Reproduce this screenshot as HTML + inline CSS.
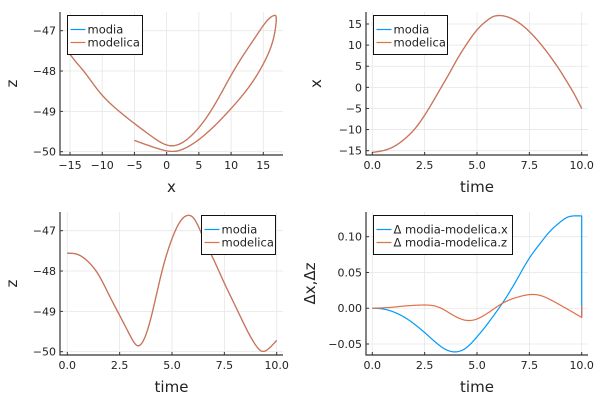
<!DOCTYPE html>
<html><head><meta charset="utf-8"><style>
body{margin:0;background:#fff;}
svg{display:block;font-family:"DejaVu Sans","Liberation Sans",sans-serif;}
.tick{font-size:11px;fill:#222;}
.lab{font-size:15px;fill:#222;}
.leg{font-size:11.5px;fill:#222;}
</style></head><body>
<svg id="fig" width="600" height="400" viewBox="0 0 600 400"></svg>
<script>
const times=[0,0.5,1,1.5,2,2.5,3,3.35,3.7,4,4.5,5,5.5,5.8,6,6.5,7,7.5,8,8.5,9,9.3,9.6,10];
const xVals=[-15.4,-15.0,-14.1,-12.4,-10.0,-6.6,-2.5,0.5,3.5,6.2,10.2,13.6,15.9,16.8,17.0,16.6,15.3,13.2,10.5,7.3,3.7,1.3,-1.2,-5.0];
const zVals=[-47.56,-47.59,-47.77,-48.1,-48.6,-49.1,-49.6,-49.85,-49.65,-49.15,-48.05,-47.2,-46.7,-46.62,-46.67,-47.18,-47.73,-48.3,-48.84,-49.38,-49.84,-49.99,-49.93,-49.72];
const dTimes=[0,0.5,1,1.5,2,2.5,3,3.35,3.7,4,4.5,5,5.5,5.8,6,6.5,7,7.5,8,8.5,9,9.3,9.6,10,10];
const dxVals=[0,-0.001,-0.005,-0.012,-0.022,-0.034,-0.047,-0.055,-0.06,-0.061,-0.055,-0.04,-0.022,-0.01,-0.002,0.02,0.045,0.07,0.09,0.108,0.121,0.127,0.129,0.129,-0.012];
const dzVals=[0,0.0005,0.0015,0.003,0.004,0.0045,0.003,-0.001,-0.007,-0.012,-0.017,-0.015,-0.007,-0.001,0.003,0.011,0.016,0.019,0.018,0.012,0.004,-0.001,-0.006,-0.013,0.003];
const xTicks1=[-15,-10,-5,0,5,10,15];
const zTicks=[-47,-48,-49,-50];
const tTicks=[0,2.5,5,7.5,10];
const xTicks2=[15,10,5,0,-5,-10,-15];
const dTicks=[0.1,0.05,0,-0.05];
const BLUE="#009AFA",ORANGE="#E26F46";
const NS="http://www.w3.org/2000/svg";
const svg=document.getElementById('fig');
function el(tag,attrs,parent){const e=document.createElementNS(NS,tag);for(const k in attrs)e.setAttribute(k,attrs[k]);(parent||svg).appendChild(e);return e;}
function lin(d0,d1,p0,p1){return v=>p0+(v-d0)*(p1-p0)/(d1-d0);}
function fmtT(v){return v.toFixed(1);}
function fmtI(v){return v<0?'\u2212'+Math.abs(v):''+v;}
function fmtD(v){const s=Math.abs(v).toFixed(2);return v<0?'\u2212'+s:s;}
function spline(xs,ys){
  const n=xs.length,h=[],a=[],l=[1],mu=[0],z=[0],c=new Array(n).fill(0),b=[],d=[];
  for(let i=0;i<n-1;i++)h.push(xs[i+1]-xs[i]);
  for(let i=1;i<n-1;i++)a[i]=3/h[i]*(ys[i+1]-ys[i])-3/h[i-1]*(ys[i]-ys[i-1]);
  for(let i=1;i<n-1;i++){l[i]=2*(xs[i+1]-xs[i-1])-h[i-1]*mu[i-1];mu[i]=h[i]/l[i];z[i]=(a[i]-h[i-1]*z[i-1])/l[i];}
  for(let j=n-2;j>=0;j--){c[j]=(j>0?z[j]:0)-mu[j]*c[j+1];b[j]=(ys[j+1]-ys[j])/h[j]-h[j]*(c[j+1]+2*c[j])/3;d[j]=(c[j+1]-c[j])/(3*h[j]);}
  return t=>{let i=0;while(i<n-2&&t>xs[i+1])i++;const dt=t-xs[i];return ys[i]+b[i]*dt+c[i]*dt*dt+d[i]*dt*dt*dt;};
}
function sampleT(ts,vs){
  let n=ts.length;const extra=[];
  while(n>1&&ts[n-1]===ts[n-2]){extra.unshift([ts[n-1],vs[n-1]]);n--;}
  const f=spline(ts.slice(0,n),vs.slice(0,n));
  const out=[];const t0=ts[0],t1=ts[n-1];
  for(let k=0;k<=400;k++){const t=t0+(t1-t0)*k/400;out.push([t,f(t)]);}
  return out.concat(extra);
}
function sampleParam(ts,xs,ys){
  const fx=spline(ts,xs),fy=spline(ts,ys);const out=[];
  for(let k=0;k<=400;k++){const t=ts[0]+(ts[ts.length-1]-ts[0])*k/400;out.push([fx(t),fy(t)]);}
  return out;
}
function panel(o){
  const g=el('g',{});
  
  
  o.xt.forEach(v=>{const l=el('line',{x1:o.sx(v),x2:o.sx(v),y1:o.top,y2:o.bottom,stroke:'#e6e6e6','stroke-width':0.8},g);
    });
  o.yt.forEach(v=>{const l=el('line',{x1:o.left,x2:o.right,y1:o.sy(v),y2:o.sy(v),stroke:'#e6e6e6','stroke-width':0.8},g);
    });
  o.series.forEach(s=>{
    const d='M'+s.pts.map(p=>o.sx(p[0]).toFixed(2)+','+o.sy(p[1]).toFixed(2)).join('L');
    const p=el('path',{d:d,fill:'none',stroke:s.color,'stroke-width':1.2,'stroke-linejoin':'round'},g);
    
  });
  const ax=el('path',{d:`M${o.left},${o.top}V${o.bottom}H${o.right}`,fill:'none',stroke:'#333','stroke-width':1.2},g);
  
  o.xt.forEach(v=>{
    el('line',{x1:o.sx(v),x2:o.sx(v),y1:o.bottom,y2:o.bottom-3,stroke:'#333','stroke-width':1},g);
    const t=el('text',{x:o.sx(v),y:o.bottom+14,'text-anchor':'middle',class:'tick'},g);t.textContent=o.fx(v);
    
  });
  o.yt.forEach(v=>{
    el('line',{x1:o.left,x2:o.left+3,y1:o.sy(v),y2:o.sy(v),stroke:'#333','stroke-width':1},g);
    const t=el('text',{x:o.left-4,y:o.sy(v)+4,'text-anchor':'end',class:'tick'},g);t.textContent=o.fy(v);
    
  });
  const xl=el('text',{x:(o.left+o.right)/2,y:o.bottom+37,'text-anchor':'middle',class:'lab'},g);xl.textContent=o.xlab;
  
  const yx=o.ylx,yy=(o.top+o.bottom)/2;
  const yl=el('text',{x:yx,y:yy,'text-anchor':'middle',class:'lab',transform:`rotate(-90 ${yx} ${yy})`},g);yl.textContent=o.ylab;
  
  const L=o.leg;
  const lg=el('g',{},g);
  
  el('rect',{x:L.x,y:L.y,width:L.w,height:39,fill:'#fff',stroke:'#111','stroke-width':1},lg);
  o.series.forEach((s,i)=>{
    const y=L.y+14+i*13;
    el('line',{x1:L.x+3,x2:L.x+18,y1:y,y2:y,stroke:s.color,'stroke-width':1.2},lg);
    const t=el('text',{x:L.x+20,y:y+4,class:'leg'},lg);t.textContent=s.label;
    
  });
}
const sy1=lin(-47,-50,30.7,151.7), sy3=lin(-47,-50,230.7,351.7);
const pXZ=sampleParam(times,xVals,zVals), pX=sampleT(times,xVals), pZ=sampleT(times,zVals);
const pDX=sampleT(dTimes,dxVals), pDZ=sampleT(dTimes,dzVals);
panel({name:'panel-z-vs-x',left:60,right:283,top:12,bottom:155,sx:lin(-15,15,70,263.3),sy:sy1,xt:xTicks1,yt:zTicks,fx:fmtI,fy:fmtI,xlab:'x',ylab:'z',ylx:17,
  leg:{x:67.5,y:15.5,w:75},
  series:[{name:'modia-z-vs-x-line',label:'modia',color:BLUE,pts:pXZ},{name:'modelica-z-vs-x-line',label:'modelica',color:ORANGE,pts:pXZ}]});
panel({name:'panel-x-vs-time',left:366,right:588,top:12,bottom:155,sx:lin(0,10,372.3,581.7),sy:lin(15,-15,24,150.7),xt:tTicks,yt:xTicks2,fx:fmtT,fy:fmtI,xlab:'time',ylab:'x',ylx:321,
  leg:{x:373.5,y:15.5,w:74},
  series:[{name:'modia-x-line',label:'modia',color:BLUE,pts:pX},{name:'modelica-x-line',label:'modelica',color:ORANGE,pts:pX}]});
panel({name:'panel-z-vs-time',left:60,right:283,top:212,bottom:355,sx:lin(0,10,67.3,276.7),sy:sy3,xt:tTicks,yt:zTicks,fx:fmtT,fy:fmtI,xlab:'time',ylab:'z',ylx:17,
  leg:{x:201.5,y:215.5,w:74},
  series:[{name:'modia-z-line',label:'modia',color:BLUE,pts:pZ},{name:'modelica-z-line',label:'modelica',color:ORANGE,pts:pZ}]});
panel({name:'panel-delta',left:366,right:588,top:212,bottom:355,sx:lin(0,10,372.3,581.7),sy:lin(0.1,-0.05,236.7,344),xt:tTicks,yt:dTicks,fx:fmtT,fy:fmtD,xlab:'time',ylab:'\u0394x,\u0394z',ylx:315,
  leg:{x:373.5,y:215.5,w:139},
  series:[{name:'delta-x-line',label:'\u0394 modia-modelica.x',color:BLUE,pts:pDX},{name:'delta-z-line',label:'\u0394 modia-modelica.z',color:ORANGE,pts:pDZ}]});
</script>
</body></html>
